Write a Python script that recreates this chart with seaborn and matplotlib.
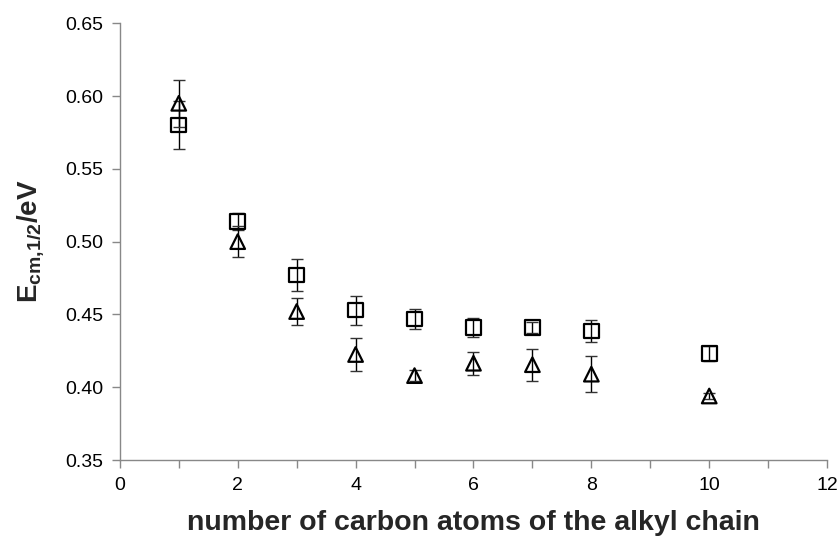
import numpy as np
import pandas as pd
import matplotlib
matplotlib.use('Agg')
import matplotlib.pyplot as plt
import seaborn as sns

# values
carbons = [1, 2, 3, 4, 5, 6, 7, 8, 10]
square_E = [0.580, 0.514, 0.477, 0.453, 0.447, 0.441, 0.441, 0.4385, 0.423]
square_err = [0.0165, 0.006, 0.011, 0.010, 0.007, 0.0066, 0.0035, 0.0074, 0.005]
triangle_E = [0.595, 0.500, 0.452, 0.4225, 0.408, 0.4165, 0.4155, 0.409, 0.394]
triangle_err = [0.016, 0.0105, 0.009, 0.0115, 0.004, 0.0078, 0.011, 0.0125, 0.002]

df = pd.DataFrame({
    'n': carbons * 2,
    'E': square_E + triangle_E,
    'err': square_err + triangle_err,
    'series': ['square'] * len(carbons) + ['triangle'] * len(carbons),
})

sns.set_style('white')
plt.rcParams['font.family'] = ['Liberation Sans', 'DejaVu Sans']
plt.rcParams['mathtext.fontset'] = 'custom'
plt.rcParams['mathtext.rm'] = 'Liberation Sans'
plt.rcParams['mathtext.bf'] = 'Liberation Sans:bold'

fig = plt.figure(figsize=(8.38, 5.4), dpi=100)
ax = fig.add_axes([0.143, 0.148, 0.844, 0.809])

# error bars first, then markers on top
for name, sub in df.groupby('series'):
    ax.errorbar(sub['n'], sub['E'], yerr=sub['err'], fmt='none',
                ecolor='#333333', elinewidth=1.0, capsize=4, capthick=1.0, zorder=2)

sns.scatterplot(data=df, x='n', y='E', style='series',
                markers={'square': 's', 'triangle': '^'},
                facecolors='none', edgecolor='black', linewidth=1.6,
                s=110, legend=False, ax=ax, zorder=3)
# make markers hollow
for coll in ax.collections:
    coll.set_facecolor('none')
    coll.set_edgecolor('black')

ax.set_xlim(0, 12)
ax.set_ylim(0.35, 0.65)
ax.set_xticks(np.arange(0, 13, 2))
ax.set_xticks(np.arange(1, 12, 2), minor=True)
ax.set_yticks(np.arange(0.35, 0.651, 0.05))
ax.set_yticklabels([f'{v:.2f}' for v in np.arange(0.35, 0.651, 0.05)])

for side in ['top', 'right']:
    ax.spines[side].set_visible(False)
for side in ['left', 'bottom']:
    ax.spines[side].set_color('#888888')
    ax.spines[side].set_linewidth(1.0)
ax.tick_params(axis='both', which='major', direction='out', length=6, width=1.0,
               color='#888888', labelsize=14, labelcolor='black', pad=6,
               bottom=True, left=True)
ax.tick_params(axis='x', which='minor', direction='out', length=6, width=1.0,
               color='#888888', bottom=True)

ax.set_xlabel('number of carbon atoms of the alkyl chain', fontsize=20.5,
              fontweight='bold', labelpad=12)
ax.set_ylabel(r'$\mathbf{E}_{\mathbf{cm{,}1/2}}\mathbf{/eV}$', fontsize=20, labelpad=13)

fig.savefig('out.png', dpi=100)
